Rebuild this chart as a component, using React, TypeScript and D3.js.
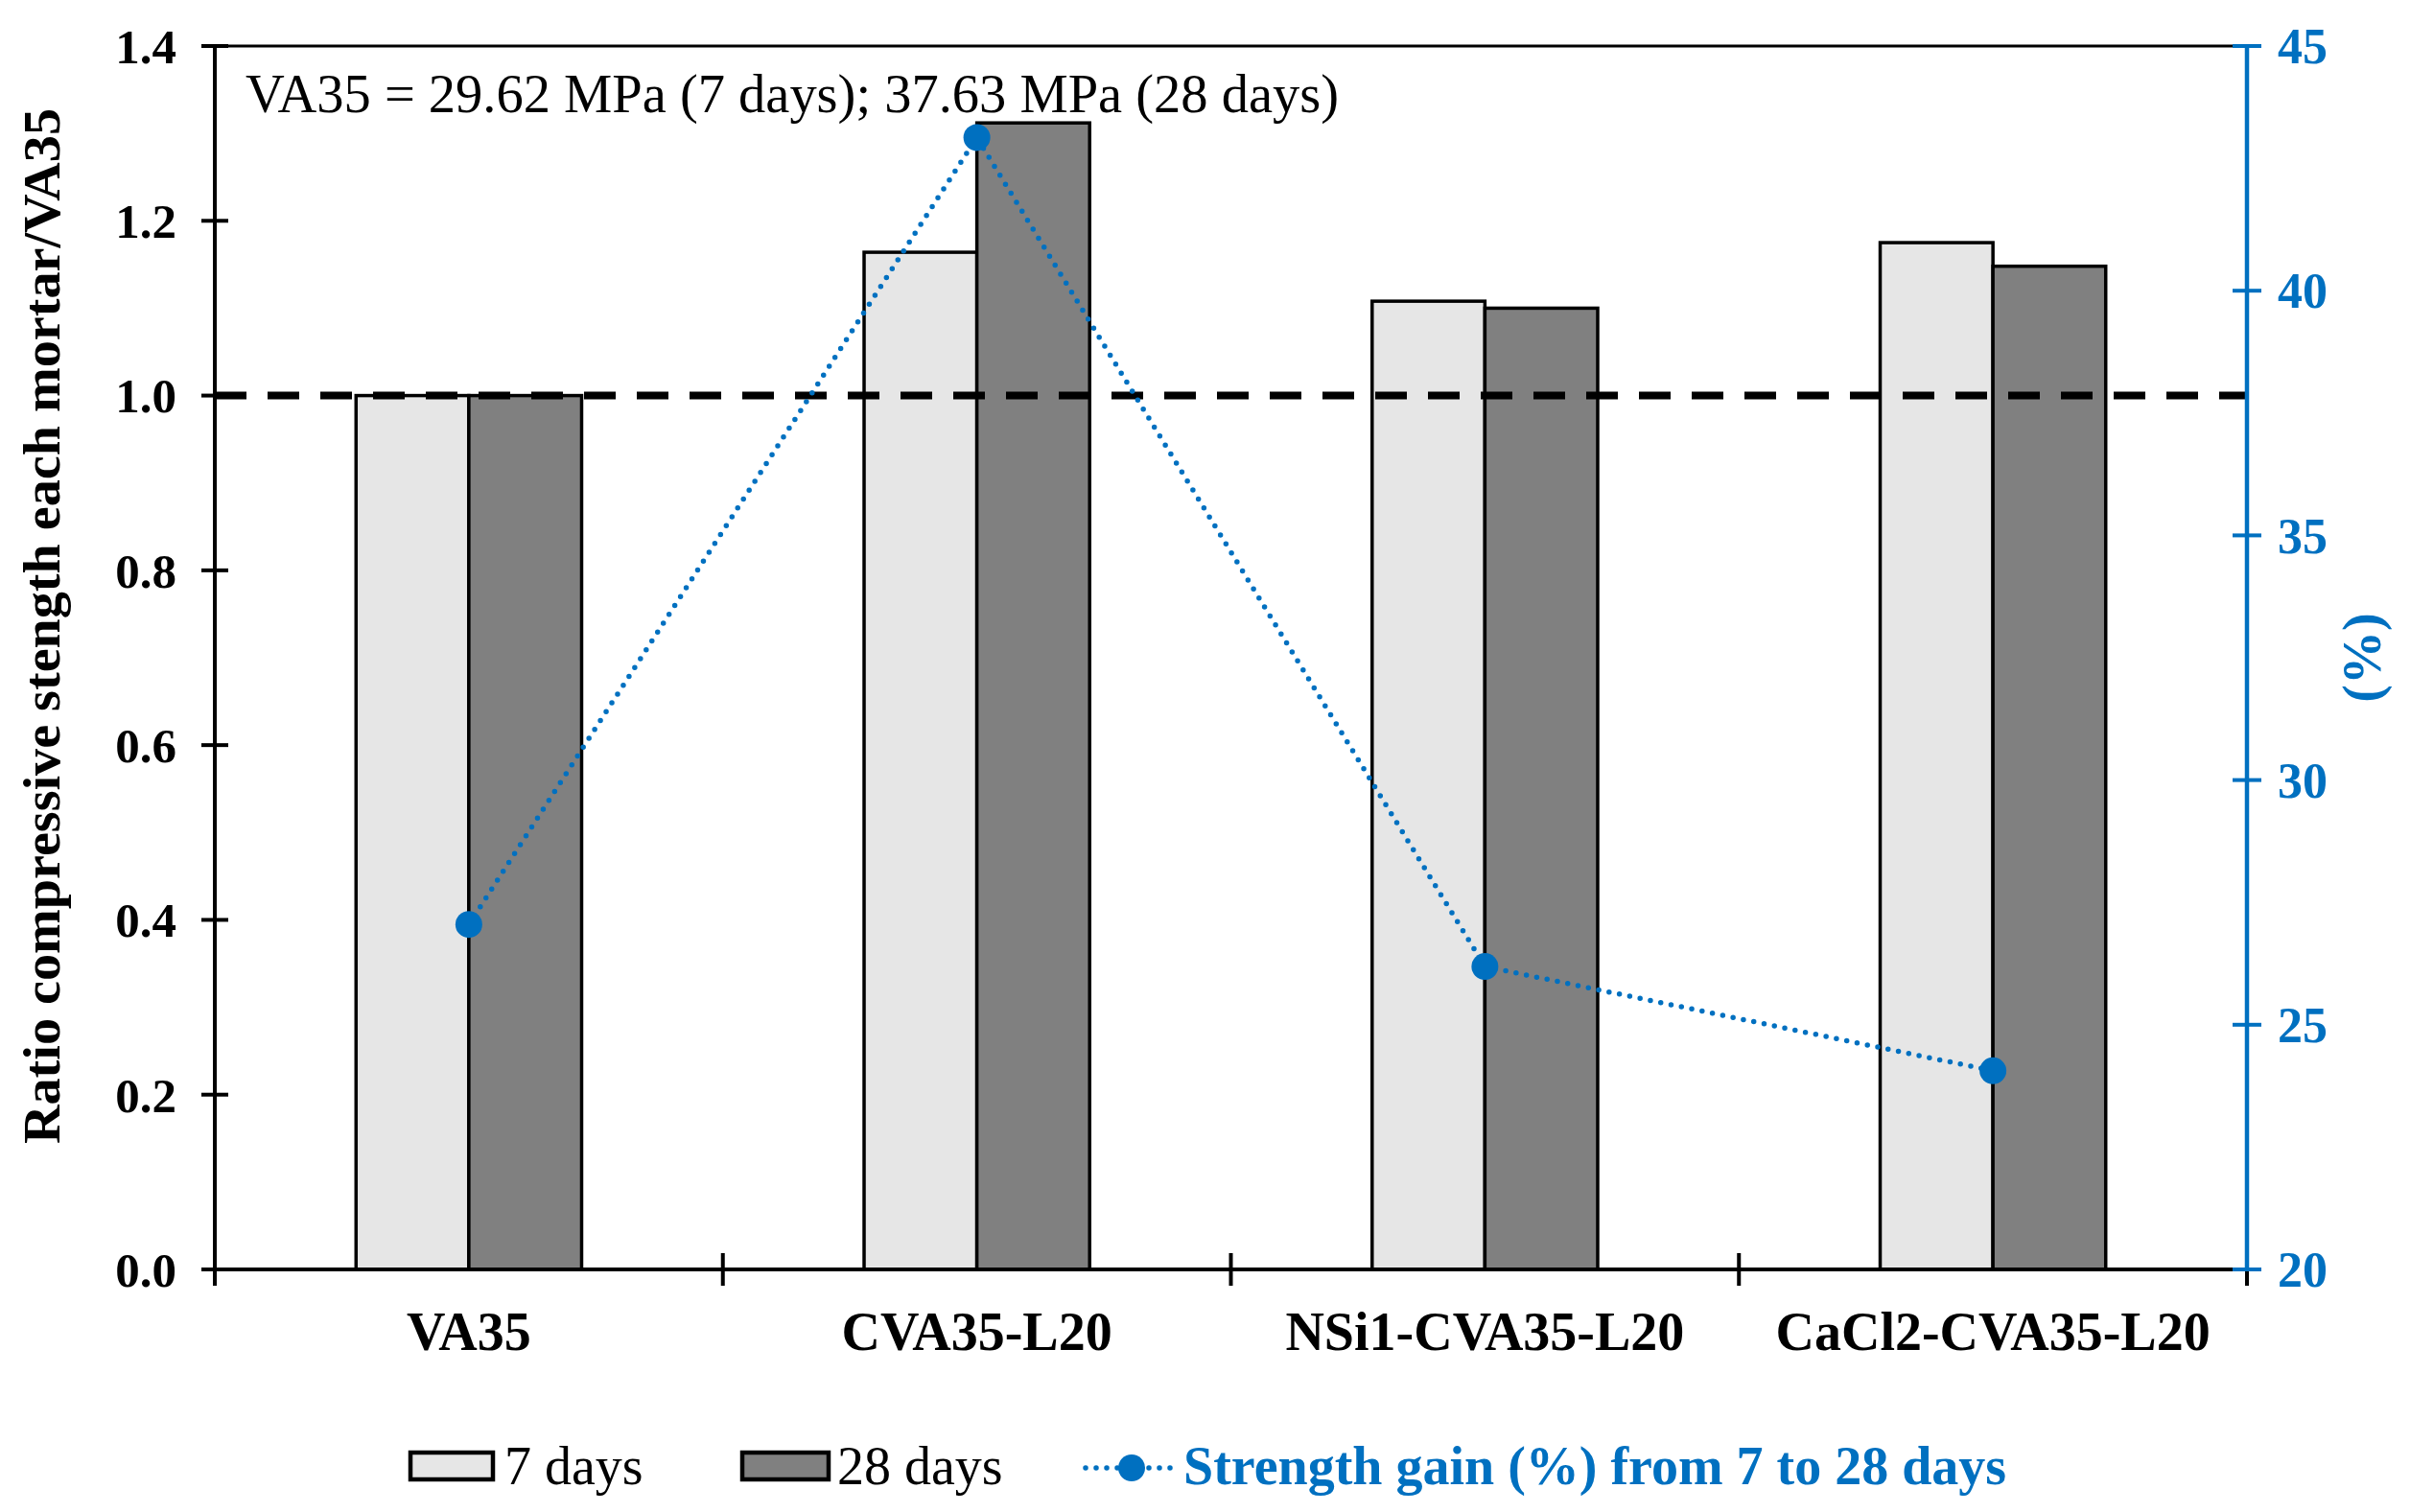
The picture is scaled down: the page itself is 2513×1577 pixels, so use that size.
import React from "react";
import * as d3 from "d3";

const categories = ["VA35", "CVA35-L20", "NSi1-CVA35-L20", "CaCl2-CVA35-L20"];
const sevenDays = [1.0, 1.164, 1.108, 1.175];
const twentyEightDays = [1.0, 1.312, 1.1, 1.148];
const strengthGain = [27.05, 43.13, 26.19, 24.06];
const leftTicks = [0, 0.2, 0.4, 0.6, 0.8, 1.0, 1.2, 1.4];
const rightTicks = [20, 25, 30, 35, 40, 45];
const seriesNames = ["7 days", "28 days", "Strength gain (%) from 7 to 28 days"];
const annotation = "VA35 = 29.62 MPa (7 days); 37.63 MPa (28 days)";
const leftTitle = "Ratio compressive stength each mortar/VA35";
const rightTitle = "(%)";
const referenceRatio = 1.0;

const W = 2513;
const H = 1577;
const left = 224;
const right = 2343;
const top = 48;
const bottom = 1324;
const BLUE = "#0070C0";
const FONT = "'Liberation Serif', 'Times New Roman', serif";

export default function App() {
  const x = d3.scaleBand<string>().domain(categories).range([left, right]).paddingInner(0).paddingOuter(0);
  const yL = d3.scaleLinear().domain([0, 1.4]).range([bottom, top]);
  const yR = d3.scaleLinear().domain([20, 45]).range([bottom, top]);
  const bw = x.bandwidth();
  const barW = bw * 0.222;
  const cx = (c: string) => (x(c) as number) + bw / 2;
  const line = d3
    .line<number>()
    .x((_, i) => cx(categories[i]))
    .y((d) => yR(d));

  return (
    <svg
      width={W}
      height={H}
      style={{ position: "absolute", left: 0, top: 0, background: "#fff" }}
      fontFamily={FONT}
    >
      <rect x={0} y={0} width={W} height={H} fill="#fff" />
      {/* bars */}
      {categories.map((c, i) => (
        <g key={c}>
          <rect
            x={cx(c) - barW}
            y={yL(sevenDays[i])}
            width={barW}
            height={yL(0) - yL(sevenDays[i])}
            fill="#E6E6E6"
            stroke="#000"
            strokeWidth={3.5}
          />
          <rect
            x={cx(c)}
            y={yL(twentyEightDays[i])}
            width={barW}
            height={yL(0) - yL(twentyEightDays[i])}
            fill="#808080"
            stroke="#000"
            strokeWidth={3.5}
          />
        </g>
      ))}
      {/* top border */}
      <line x1={left} x2={right} y1={yL(1.4)} y2={yL(1.4)} stroke="#000" strokeWidth={3} />
      {/* reference dashed line */}
      <line
        x1={left}
        x2={right}
        y1={yL(referenceRatio)}
        y2={yL(referenceRatio)}
        stroke="#000"
        strokeWidth={8}
        strokeDasharray="33 22"
      />
      {/* left axis */}
      <line x1={left} x2={left} y1={top} y2={bottom} stroke="#000" strokeWidth={4} />
      {leftTicks.map((t) => (
        <g key={t}>
          <line x1={left - 14} x2={left + 14} y1={yL(t)} y2={yL(t)} stroke="#000" strokeWidth={4} />
          <text
            x={184}
            y={yL(t)}
            dy="0.35em"
            textAnchor="end"
            fontSize={51}
            fontWeight="bold"
            fill="#000"
          >
            {t.toFixed(1)}
          </text>
        </g>
      ))}
      {/* bottom axis */}
      <line x1={left} x2={right} y1={bottom} y2={bottom} stroke="#000" strokeWidth={4} />
      {[...categories.map((c) => x(c) as number), right].map((v, i) => (
        <line key={i} x1={v} x2={v} y1={bottom - 17} y2={bottom + 17} stroke="#000" strokeWidth={4} />
      ))}
      {categories.map((c) => (
        <text key={c} x={cx(c)} y={1408} textAnchor="middle" fontSize={56} fontWeight="bold" fill="#000">
          {c}
        </text>
      ))}
      {/* right axis */}
      <line x1={right} x2={right} y1={top} y2={bottom} stroke={BLUE} strokeWidth={4.5} />
      {rightTicks.map((t) => (
        <g key={t}>
          <line x1={right - 15} x2={right + 15} y1={yR(t)} y2={yR(t)} stroke={BLUE} strokeWidth={4} />
          <text x={2375} y={yR(t)} dy="0.35em" textAnchor="start" fontSize={52} fontWeight="bold" fill={BLUE}>
            {t}
          </text>
        </g>
      ))}
      {/* strength gain line */}
      <path
        d={line(strengthGain) || ""}
        fill="none"
        stroke={BLUE}
        strokeWidth={5.5}
        strokeDasharray="0 11"
        strokeLinecap="round"
      />
      {strengthGain.map((g, i) => (
        <circle key={i} cx={cx(categories[i])} cy={yR(g)} r={14} fill={BLUE} />
      ))}
      {/* annotation */}
      <text x={256} y={117} fontSize={56} fill="#000" textLength={1140} lengthAdjust="spacingAndGlyphs">
        {annotation}
      </text>
      {/* axis titles */}
      <text
        transform={`translate(62, 653) rotate(-90)`}
        textAnchor="middle"
        fontSize={55}
        fontWeight="bold"
        fill="#000"
        textLength={1080}
        lengthAdjust="spacingAndGlyphs"
      >
        {leftTitle}
      </text>
      <text
        transform={`translate(2482, ${(top + bottom) / 2}) rotate(-90)`}
        textAnchor="middle"
        fontSize={56}
        fontWeight="bold"
        fill={BLUE}
      >
        {rightTitle}
      </text>
      {/* legend */}
      <rect x={428} y={1515} width={86} height={28} fill="#E6E6E6" stroke="#000" strokeWidth={4.5} />
      <text x={526} y={1548} fontSize={56} fill="#000">
        {seriesNames[0]}
      </text>
      <rect x={774} y={1515} width={90} height={28} fill="#808080" stroke="#000" strokeWidth={4.5} />
      <text x={873} y={1548} fontSize={56} fill="#000">
        {seriesNames[1]}
      </text>
      <line
        x1={1132}
        x2={1228}
        y1={1531}
        y2={1531}
        stroke={BLUE}
        strokeWidth={5.5}
        strokeDasharray="0 11"
        strokeLinecap="round"
      />
      <circle cx={1180} cy={1531} r={14} fill={BLUE} />
      <text x={1234} y={1548} fontSize={56} fontWeight="bold" fill={BLUE}>
        {seriesNames[2]}
      </text>
    </svg>
  );
}
